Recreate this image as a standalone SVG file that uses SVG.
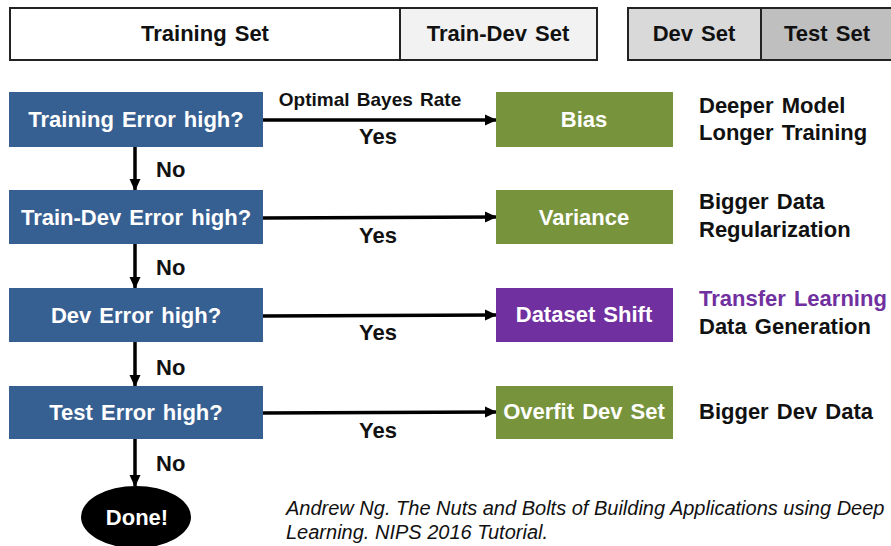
<svg xmlns="http://www.w3.org/2000/svg" width="891" height="546" viewBox="0 0 891 546">
<style>
text{font-family:"Liberation Sans",Arial,sans-serif;font-weight:bold;word-spacing:2px;}
.set{font-size:22px;fill:#111;text-anchor:middle;dominant-baseline:central;}
.setbox{stroke:#222;stroke-width:2;}
.q{fill:#376092;}
.qt{font-size:22px;fill:#fff;text-anchor:middle;dominant-baseline:central;}
.g{fill:#77933c;}
.p{fill:#7030a0;}
.lbl{font-size:22px;fill:#111;}
.small{font-size:19px;fill:#111;text-anchor:middle;}
.yes{font-size:22px;fill:#111;text-anchor:middle;}
.edge{stroke:#000;stroke-width:3.5;fill:none;}
.cite{font-size:20px;font-style:italic;font-weight:normal;fill:#111;word-spacing:0px;}
</style>
<defs>
<marker id="ah" markerWidth="12" markerHeight="12" refX="11" refY="6" orient="auto" markerUnits="userSpaceOnUse">
<path d="M0,0.5 L12,6 L0,11.5 Z" fill="#000"/>
</marker>
</defs>
<rect width="891" height="546" fill="#fff"/>
<g id="sets">
<rect class="setbox" x="10" y="8" width="390" height="52" fill="#fff"/>
<rect class="setbox" x="400" y="8" width="197" height="52" fill="#f2f2f2"/>
<rect class="setbox" x="628" y="8" width="133" height="52" fill="#d9d9d9"/>
<rect class="setbox" x="761" y="8" width="140" height="52" fill="#bfbfbf"/>
<text class="set" x="205" y="33">Training Set</text>
<text class="set" x="498" y="33">Train-Dev Set</text>
<text class="set" x="694" y="33">Dev Set</text>
<text class="set" x="827" y="33">Test Set</text>
</g>
<g id="connectors">
<line class="edge" x1="135" y1="147" x2="135" y2="190" marker-end="url(#ah)"/>
<line class="edge" x1="135" y1="244" x2="135" y2="288" marker-end="url(#ah)"/>
<line class="edge" x1="135" y1="342" x2="135" y2="386" marker-end="url(#ah)"/>
<line class="edge" x1="135" y1="439" x2="135" y2="486" marker-end="url(#ah)"/>
<line class="edge" x1="263" y1="120" x2="496" y2="120" marker-end="url(#ah)"/>
<line class="edge" x1="263" y1="218" x2="496" y2="217" marker-end="url(#ah)"/>
<line class="edge" x1="263" y1="316" x2="496" y2="315" marker-end="url(#ah)"/>
<line class="edge" x1="263" y1="413" x2="496" y2="412" marker-end="url(#ah)"/>
<text class="small" x="370" y="106">Optimal Bayes Rate</text>
<text class="yes" x="378" y="144">Yes</text>
<text class="yes" x="378" y="243">Yes</text>
<text class="yes" x="378" y="340">Yes</text>
<text class="yes" x="378" y="438">Yes</text>
<text class="lbl" x="156" y="177">No</text>
<text class="lbl" x="156" y="275">No</text>
<text class="lbl" x="156" y="375">No</text>
<text class="lbl" x="156" y="471">No</text>
</g>
<g id="q1"><rect class="q" x="9" y="92" width="254" height="55"/><text class="qt" x="136" y="119.5">Training Error high?</text></g>
<g id="q2"><rect class="q" x="9" y="190" width="254" height="54"/><text class="qt" x="136" y="217">Train-Dev Error high?</text></g>
<g id="q3"><rect class="q" x="9" y="288" width="254" height="54"/><text class="qt" x="136" y="315">Dev Error high?</text></g>
<g id="q4"><rect class="q" x="9" y="386" width="254" height="53"/><text class="qt" x="136" y="412">Test Error high?</text></g>
<g id="done"><ellipse cx="136" cy="517" rx="55" ry="31" fill="#000"/><text class="qt" x="137" y="517">Done!</text></g>
<g id="bias"><rect class="g" x="496" y="92" width="177" height="55"/><text class="qt" x="584" y="119.5">Bias</text></g>
<g id="variance"><rect class="g" x="496" y="190" width="177" height="54"/><text class="qt" x="584" y="217">Variance</text></g>
<g id="shift"><rect class="p" x="496" y="288" width="177" height="54"/><text class="qt" x="584" y="314">Dataset Shift</text></g>
<g id="overfit"><rect class="g" x="496" y="386" width="177" height="53"/><text class="qt" x="584" y="411">Overfit Dev Set</text></g>
<g id="remedies">
<text class="lbl" x="699" y="113">Deeper Model</text>
<text class="lbl" x="699" y="140">Longer Training</text>
<text class="lbl" x="699" y="209">Bigger Data</text>
<text class="lbl" x="699" y="237">Regularization</text>
<text class="lbl" x="699" y="306" style="fill:#7030a0">Transfer Learning</text>
<text class="lbl" x="699" y="334">Data Generation</text>
<text class="lbl" x="699" y="419">Bigger Dev Data</text>
</g>
<g id="citation">
<text class="cite" x="286" y="515">Andrew Ng. The Nuts and Bolts of Building Applications using Deep</text>
<text class="cite" x="286" y="539">Learning. NIPS 2016 Tutorial.</text>
</g>
</svg>
